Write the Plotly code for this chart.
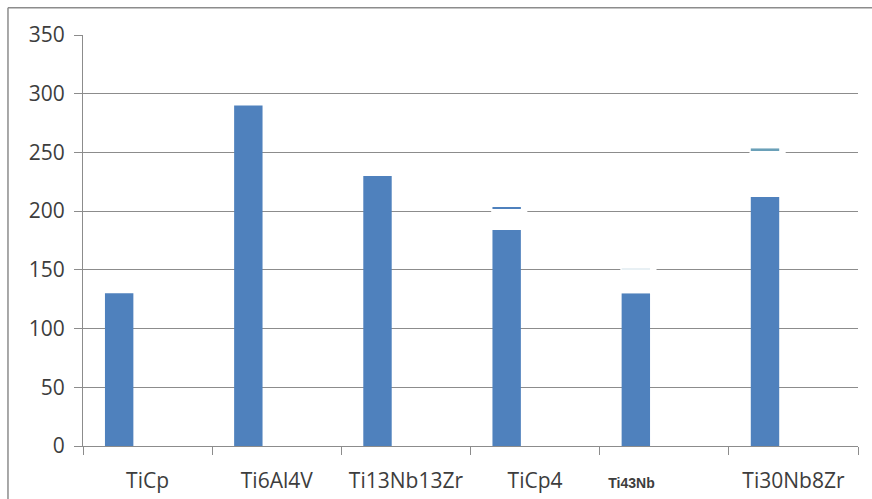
import plotly.graph_objects as go

# Alloy names shown along the category axis
categories = ["TiCp", "Ti6Al4V", "Ti13Nb13Zr", "TiCp4", "Ti43Nb", "Ti30Nb8Zr"]
tick_labels = ["TiCp", "Ti6Al4V", "Ti13Nb13Zr", "TiCp4",
               "<b><span style='font-size:14px;font-family:Liberation Sans'>Ti43Nb</span></b>"
               + "<span style='font-size:21px'>" + "&nbsp;" * 12 + "</span>",
               "Ti30Nb8Zr"]

# Main series values
values = [130, 290, 230, 184, 130, 212]
# Upper limits of the blank band above some bars, and the thin cap line inside it
band_top = [None, None, None, 218, 152, 253]
cap_value = [None, None, None, 202, 150, 252]
cap_colors = ["#4F81BD", "#4F81BD", "#4F81BD", "#4F81BD", "#e8f0f4", "#6aa0b8"]

BAR_COLOR = "#4F81BD"
BAR_WIDTH = 0.22
BAR_OFFSET = -0.33

band_height = [None if t is None else t - v for t, v in zip(band_top, values)]

fig = go.Figure()

fig.add_trace(go.Bar(
    x=categories, y=values,
    marker=dict(color=BAR_COLOR, line=dict(width=0)),
    width=BAR_WIDTH, offset=BAR_OFFSET,
    showlegend=False,
))

# White band sitting on top of selected bars
fig.add_trace(go.Bar(
    x=categories, y=band_height, base=values,
    marker=dict(color="white", line=dict(width=0)),
    width=BAR_WIDTH + 0.06, offset=BAR_OFFSET - 0.01,
    showlegend=False,
))

# Thin cap line inside the band
fig.add_trace(go.Bar(
    x=categories, y=[None if c is None else 1.4 for c in cap_value], base=cap_value,
    marker=dict(color=cap_colors, line=dict(width=0)),
    width=BAR_WIDTH, offset=BAR_OFFSET,
    showlegend=False,
))

font_color = "#3d3d3d"

fig.update_layout(
    width=872, height=499,
    margin=dict(l=83, r=14, t=35, b=53),
    paper_bgcolor="white", plot_bgcolor="white",
    barmode="overlay",
    font=dict(family="Open Sans", size=21, color=font_color),
    xaxis=dict(
        type="category",
        tickmode="array", tickvals=categories, ticktext=tick_labels,
        tickson="boundaries", ticks="outside", ticklen=8, tickcolor="#8c8c8c",
        showline=True, linecolor="#8c8c8c", linewidth=1,
        showgrid=False, zeroline=False,
        tickfont=dict(size=21, color=font_color),
        ticklabelstandoff=16,
        automargin=False,
        range=[-0.5, 5.5],
    ),
    yaxis=dict(
        range=[0, 350], tickvals=[0, 50, 100, 150, 200, 250, 300, 350],
        ticks="outside", ticklen=8, tickcolor="#8c8c8c",
        showline=True, linecolor="#8c8c8c", linewidth=1,
        showgrid=True, gridcolor="#8c8c8c", gridwidth=1,
        zeroline=False,
        tickfont=dict(size=21, color=font_color),
        ticklabelstandoff=5,
        automargin=False,
    ),
    shapes=[
        # frame edges around the chart area
        dict(type="line", xref="paper", yref="paper",
             x0=-0.0968, x1=1.02, y0=1.066, y1=1.066,
             line=dict(color="#8c8c8c", width=1.5)),
        dict(type="line", xref="paper", yref="paper",
             x0=-0.0968, x1=-0.0968, y0=1.066, y1=-0.2,
             line=dict(color="#8c8c8c", width=1.5)),
    ],
)

fig.write_html("out.html")
